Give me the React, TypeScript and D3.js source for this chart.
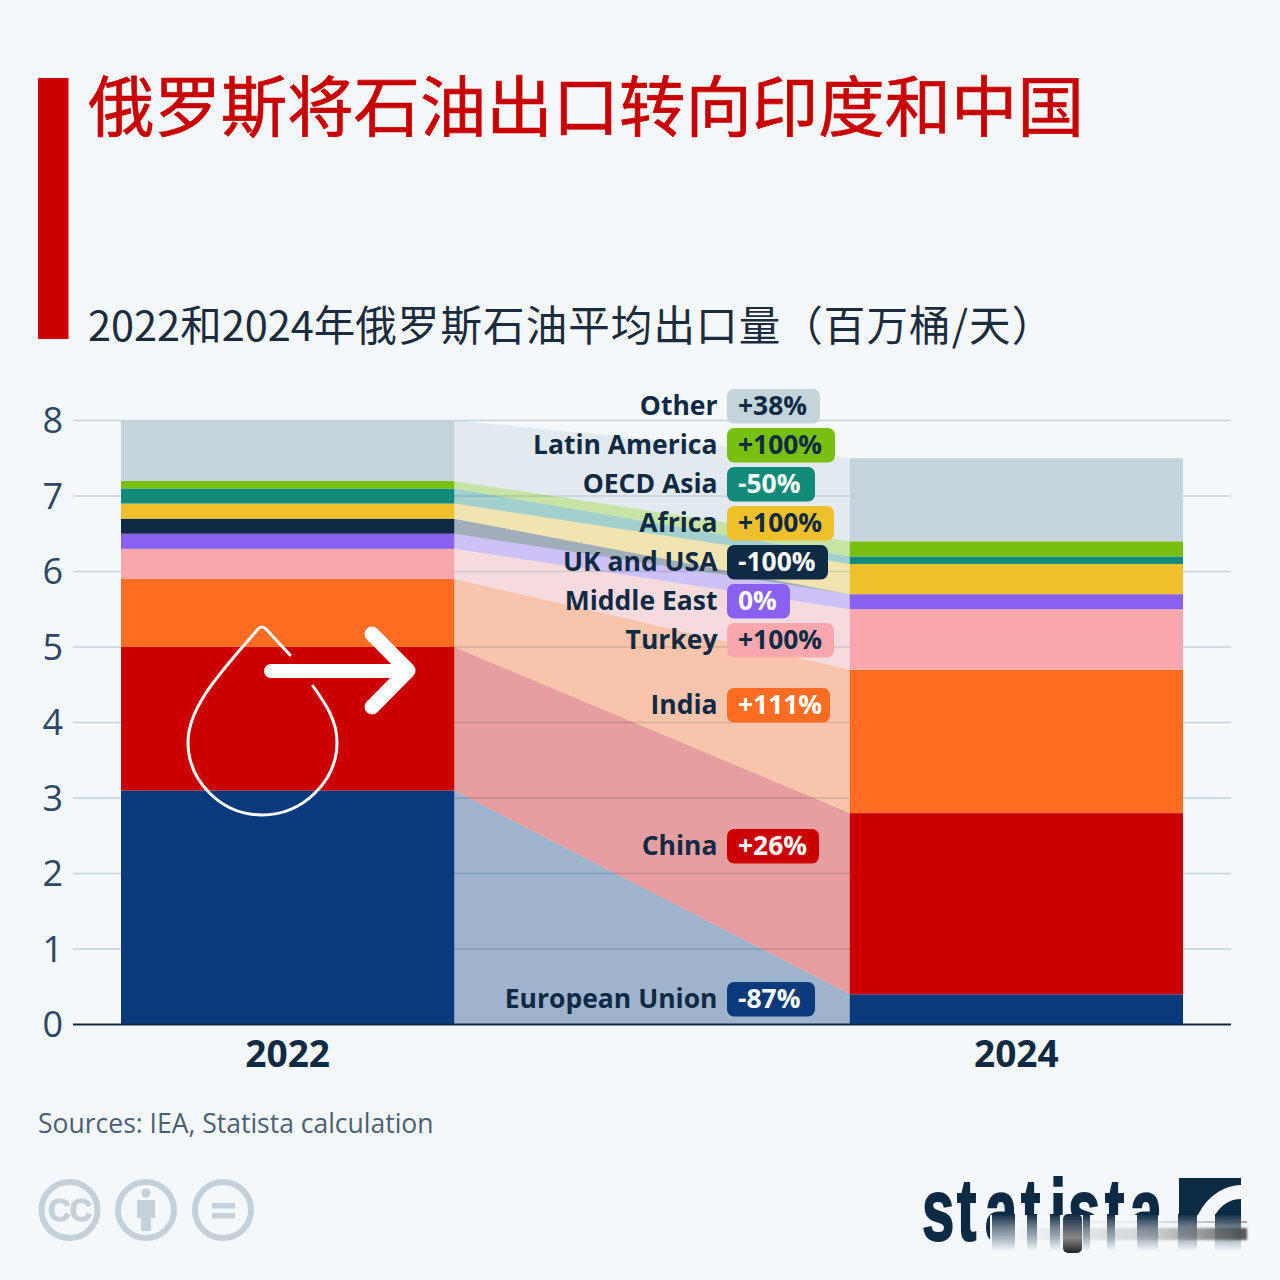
import React from "react";
import * as d3 from "d3";

const years = ["2022", "2024"];
const categories = ["European Union", "China", "India", "Turkey", "Middle East", "UK and USA", "Africa", "OECD Asia", "Latin America", "Other"];
const values2022 = [3.1, 1.9, 0.9, 0.4, 0.2, 0.2, 0.2, 0.2, 0.1, 0.8];
const values2024 = [0.4, 2.4, 1.9, 0.8, 0.2, 0, 0.4, 0.1, 0.2, 1.1];
const changes = ["-87%", "+26%", "+111%", "+100%", "0%", "-100%", "+100%", "-50%", "+100%", "+38%"];
const yTicks = [0, 1, 2, 3, 4, 5, 6, 7, 8];
const title = "俄罗斯将石油出口转向印度和中国";
const subtitleHead = "2022和2024年";
const subtitleTail = "俄罗斯石油平均出口量（百万桶/天）";
const source = "Sources: IEA, Statista calculation";
const logoWord = "statista";

const colors = ["#0b3a7c", "#cc0000", "#ff6c22", "#f8a8ac", "#8a60f0", "#0f2a44", "#eec12c", "#128a7a", "#78c00f", "#c5d3da"];
const badgeInk = ["#fff", "#fff", "#fff", "#0f2a44", "#fff", "#fff", "#0f2a44", "#fff", "#0f2a44", "#0f2a44"];
const labelY = [998, 845, 704, 639, 600, 561, 522, 483, 444, 405];
const badgeW = [88, 92, 103, 107, 63, 101, 107, 88, 108, 93];

const logoLeft = [922, 957, 985, 1021, 1050, 1068, 1105, 1130];
const logoStems: [number, number][] = [[992, 23], [1027, 10], [1050, 10], [1083, 7], [1107, 8], [1137, 21], [1178, 19], [1215, 26]];

const FONT = "'Open Sans', sans-serif";
const CJK = "'Noto Sans CJK SC', sans-serif";
const INK = "#0f2a44";
const BG = "#f4f8fb";
const LOGO_SX = 0.66;

export default function App() {
  const y = d3.scaleLinear().domain([0, 8]).range([1024.5, 420.5]);
  const x = d3.scaleBand().domain(years).range([121, 1183]).paddingInner(395 / 728).paddingOuter(0);
  const rows = years.map((yr, i) => {
    const o: Record<string, number | string> = { year: yr };
    categories.forEach((c, k) => (o[c] = (i === 0 ? values2022 : values2024)[k]));
    return o;
  });
  const series = d3.stack<any>().keys(categories)(rows as any);
  const bw = x.bandwidth();
  const x0 = x("2022")! + bw;
  const x1 = x("2024")!;
  const flowX = d3.scaleLinear().domain([0, 1]).range([x0, x1]);
  const flow = d3.area<[number, number]>()
    .x((_, i) => flowX(i))
    .y0((d) => y(d[0]))
    .y1((d) => y(d[1]));

  return (
    <svg width={1280} height={1280} viewBox="0 0 1280 1280" style={{ position: "absolute", left: 0, top: 0, display: "block" }}>
      <defs>
        <linearGradient id="stem" gradientUnits="userSpaceOnUse" x1="0" y1="1214" x2="0" y2="1251">
          <stop offset="0" stopColor={INK} />
          <stop offset="0.35" stopColor={INK} stopOpacity="0.6" />
          <stop offset="1" stopColor={INK} stopOpacity="0" />
        </linearGradient>
        <linearGradient id="stub" gradientUnits="userSpaceOnUse" x1="0" y1="1214" x2="0" y2="1253">
          <stop offset="0" stopColor={INK} />
          <stop offset="0.6" stopColor="#888" />
          <stop offset="1" stopColor="#222" />
        </linearGradient>
        <clipPath id="logoClip">
          <rect x={900} y={1160} width={90} height={100} />
          <rect x={990} y={1160} width={290} height={55} />
        </clipPath>
        <linearGradient id="smear" x1="0" x2="1" y1="0" y2="0">
          <stop offset="0" stopColor="#999" stopOpacity="0" />
          <stop offset="0.6" stopColor="#888" stopOpacity="0.3" />
          <stop offset="1" stopColor="#444" stopOpacity="0.9" />
        </linearGradient>
        <filter id="soft"><feGaussianBlur stdDeviation="0.5" /></filter>
        <filter id="soft2"><feGaussianBlur stdDeviation="1.2" /></filter>
      </defs>
      <rect width={1280} height={1280} fill={BG} />

      <rect x={38} y={78} width={30.5} height={261} fill="#cc0000" />
      <text x={88} y={131} fontFamily={CJK} fontSize={66.4} fontWeight={400} fill="#c80000" stroke="#c80000" strokeWidth={0.7}>{title}</text>
      <text x={88} y={341} fontFamily={CJK} fontSize={41.5} fontWeight={400} fill="#1b2c3f">
        {subtitleHead}
        <tspan letterSpacing={1.1}>{subtitleTail}</tspan>
      </text>

      {yTicks.map((t) => (
        <g key={t}>
          {t > 0 && <line x1={73} x2={1231} y1={y(t)} y2={y(t)} stroke="#c5d1da" strokeWidth={1.5} />}
          <text x={63} y={y(t)} dy="0.36em" textAnchor="end" fontFamily={FONT} fontSize={36} fill="#2c4866">{t}</text>
        </g>
      ))}

      {series.map((s, k) => (
        <path key={`f${k}`} d={flow([[s[0][0], s[0][1]], [s[1][0], s[1][1]]]) ?? ""} fill={colors[k]} fillOpacity={0.36} />
      ))}
      {series.map((s, k) =>
        s.map((d, i) => (
          <rect key={`${k}-${i}`} x={x(years[i])} width={bw} y={y(d[1])} height={y(d[0]) - y(d[1])} fill={colors[k]} />
        ))
      )}
      <line x1={73} x2={1231} y1={y(0)} y2={y(0)} stroke={INK} strokeWidth={2} />

      <g fill="none" stroke="#fff" strokeLinecap="round" strokeLinejoin="round">
        <path strokeWidth={3} d="M290,655 L266,629 Q262,625 258,629 C225,668 188,705 188,742 C188,782 222,815 262,815 C302,815 337,782 337,742 C337,720 325,703 313,686" />
        <path strokeWidth={14} d="M271,671 H407" />
        <path strokeWidth={15} d="M372,634 L408,670.5 L372,707" />
      </g>

      {categories.map((c, k) => {
        const cy = labelY[k];
        return (
          <g key={c}>
            <text x={717.5} y={cy + 0.5} dy="0.36em" textAnchor="end" fontFamily={FONT} fontSize={26.5} fontWeight={700} fill={INK}>{c}</text>
            <rect x={727} y={cy - 16} width={badgeW[k]} height={34.5} rx={7} fill={colors[k]} />
            <text x={738} y={cy + 0.5} dy="0.36em" fontFamily={FONT} fontSize={26.4} fontWeight={700} fill={badgeInk[k]}>{changes[k]}</text>
          </g>
        );
      })}

      {years.map((yr) => (
        <text key={yr} x={x(yr)! + bw / 2} y={1067} textAnchor="middle" fontFamily={FONT} fontSize={37} fontWeight={700} fill={INK}>{yr}</text>
      ))}

      <text x={38} y={1133} fontFamily={FONT} fontSize={26.5} fill="#4a6074">{source}</text>

      <g fill="none" stroke="#c5d1da" strokeWidth={6}>
        <circle cx={69.5} cy={1210} r={28} />
        <circle cx={146} cy={1210} r={28} />
        <circle cx={223} cy={1210} r={28} />
      </g>
      <text x={69.5} y={1221} textAnchor="middle" fontFamily="'Liberation Sans', sans-serif" fontWeight={700} fontSize={31} letterSpacing={-1} fill="#c5d1da" stroke="#c5d1da" strokeWidth={1}>CC</text>
      <g fill="#c5d1da">
        <circle cx={146} cy={1193} r={4.5} />
        <path d="M137,1200 H155 V1218 H151 V1231 H141 V1218 H137 Z" />
        <rect x={212} y={1203} width={23} height={5.5} />
        <rect x={212} y={1213} width={23} height={5.5} />
      </g>

      <g clipPath="url(#logoClip)" filter="url(#soft)">
        <text
          transform={`scale(${LOGO_SX},1)`}
          x={logoLeft.map((v) => (v / LOGO_SX).toFixed(1)).join(" ")}
          y={1240}
          fontFamily="'Liberation Sans', sans-serif"
          fontWeight={700}
          fontSize={88}
          fill={INK}
          stroke={INK}
          strokeWidth={2}
        >
          {logoWord}
        </text>
        <path fill={INK} d="M1179,1178 H1241 V1185 C1222,1186 1207,1197 1198,1215 H1179 Z" />
        <path fill={INK} d="M1215,1215 C1221,1205 1230,1199 1241,1199 V1215 Z" />
      </g>
      <g filter="url(#soft)">
        {logoStems.map(([sx, sw]) => (
          <rect key={sx} x={sx} y={1214} width={sw} height={37} fill="url(#stem)" />
        ))}
      </g>
      <rect x={995} y={1228} width={252} height={12} fill="url(#smear)" filter="url(#soft2)" />
      <rect x={995} y={1221} width={252} height={2} fill="url(#smear)" opacity={0.5} filter="url(#soft)" />
      <rect x={1063} y={1214} width={19} height={39} rx={5} fill="url(#stub)" filter="url(#soft)" />
    </svg>
  );
}
